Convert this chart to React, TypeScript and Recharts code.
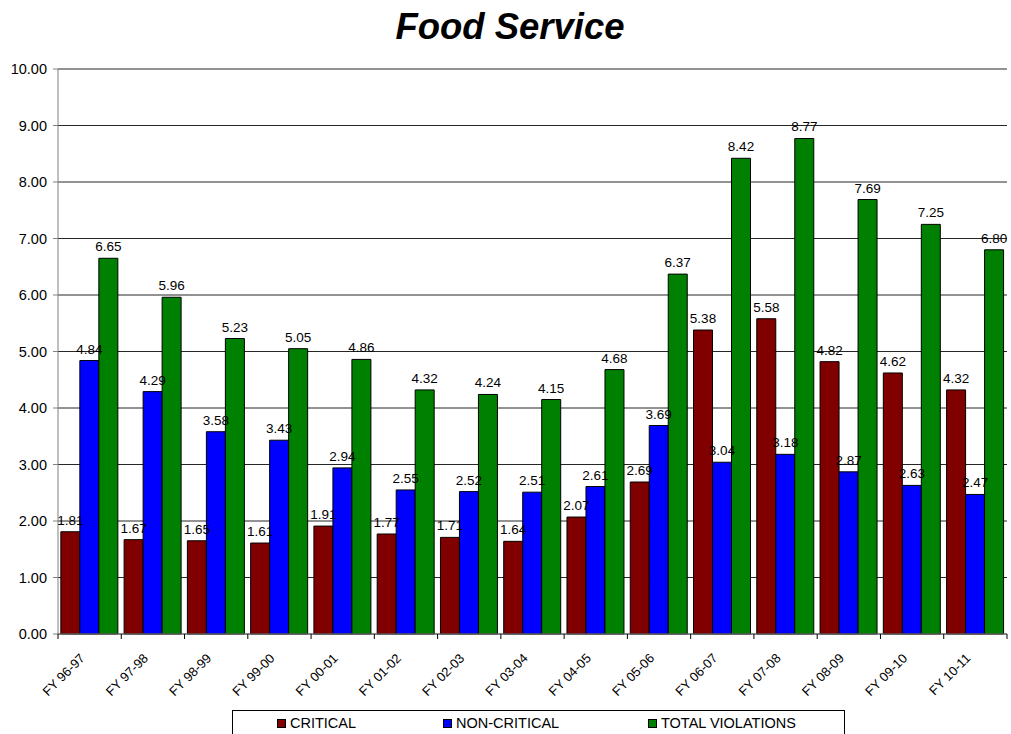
import React from "react";
import {
  BarChart,
  Bar,
  XAxis,
  YAxis,
  CartesianGrid,
  Legend,
  LabelList,
} from "recharts";

const YEARS = [
  "FY 96-97", "FY 97-98", "FY 98-99", "FY 99-00", "FY 00-01",
  "FY 01-02", "FY 02-03", "FY 03-04", "FY 04-05", "FY 05-06",
  "FY 06-07", "FY 07-08", "FY 08-09", "FY 09-10", "FY 10-11",
];
const CRITICAL = [1.81, 1.67, 1.65, 1.61, 1.91, 1.77, 1.71, 1.64, 2.07, 2.69, 5.38, 5.58, 4.82, 4.62, 4.32];
const NON_CRITICAL = [4.84, 4.29, 3.58, 3.43, 2.94, 2.55, 2.52, 2.51, 2.61, 3.69, 3.04, 3.18, 2.87, 2.63, 2.47];
const TOTAL = [6.65, 5.96, 5.23, 5.05, 4.86, 4.32, 4.24, 4.15, 4.68, 6.37, 8.42, 8.77, 7.69, 7.25, 6.8];
const Y_TICKS = [0, 1, 2, 3, 4, 5, 6, 7, 8, 9, 10];

const SERIES = [
  { key: "critical", name: "CRITICAL", color: "#800000" },
  { key: "nonCritical", name: "NON-CRITICAL", color: "#0000ff" },
  { key: "total", name: "TOTAL VIOLATIONS", color: "#008000" },
];

const data = YEARS.map((name, i) => ({
  name,
  critical: CRITICAL[i],
  nonCritical: NON_CRITICAL[i],
  total: TOTAL[i],
}));

const FONT = "'Liberation Sans', Arial, sans-serif";
const W = 1011;
const H = 734;
const BAND = (W - 58 - 4) / YEARS.length;

function XTick({ x, y, payload, index }: any) {
  const left = x - BAND / 2;
  const ax = x - 4;
  const ay = y + 17;
  return (
    <g>
      <line x1={left} y1={y - 8} x2={left} y2={y - 3} stroke="#000" />
      {index === YEARS.length - 1 && (
        <line x1={x + BAND / 2} y1={y - 8} x2={x + BAND / 2} y2={y - 3} stroke="#000" />
      )}
      <text
        x={ax}
        y={ay}
        transform={`rotate(-45, ${ax}, ${ay})`}
        textAnchor="end"
        fontSize={13}
        fontFamily={FONT}
        fill="#000"
      >
        {payload.value}
      </text>
    </g>
  );
}

function LegendBox() {
  const pos = [44, 210, 415];
  return (
    <div
      style={{
        width: 613,
        height: 25,
        boxSizing: "border-box",
        border: "1px solid #000",
        position: "relative",
        fontFamily: FONT,
        fontSize: 14.5,
        background: "#fff",
      }}
    >
      {SERIES.map((s, i) => (
        <div
          key={s.key}
          style={{ position: "absolute", left: pos[i], top: 4, display: "flex", alignItems: "center", lineHeight: "17px" }}
        >
          <span
            style={{
              display: "inline-block",
              width: 9,
              height: 9,
              boxSizing: "border-box",
              background: s.color,
              border: "1px solid #000",
              marginRight: 4,
            }}
          />
          <span>{s.name}</span>
        </div>
      ))}
    </div>
  );
}

export default function App() {
  return (
    <div style={{ position: "relative", width: W, height: H, background: "#fff" }}>
      <style>{`body{margin:0}`}</style>
      <div
        style={{
          position: "absolute",
          left: 510,
          top: 6,
          transform: "translateX(-50%)",
          fontFamily: FONT,
          fontSize: 36.5,
          fontWeight: "bold",
          fontStyle: "italic",
          whiteSpace: "nowrap",
          zIndex: 2,
        }}
      >
        Food Service
      </div>
      <BarChart
        width={W}
        height={H}
        data={data}
        margin={{ top: 69, right: 4, left: 0, bottom: 0 }}
        barCategoryGap="4.5%"
        barGap={0}
      >
        <CartesianGrid vertical={false} stroke="#000" strokeOpacity={0.85} />
        <XAxis
          dataKey="name"
          height={76}
          interval={0}
          tickLine={false}
          axisLine={{ stroke: "#808080" }}
          tick={<XTick />}
        />
        <YAxis
          width={58}
          domain={[0, 10]}
          ticks={Y_TICKS}
          interval={0}
          tickFormatter={(v: number) => v.toFixed(2)}
          tick={{ fontSize: 14.5, fontFamily: FONT, fill: "#000" }}
          tickSize={5}
          tickMargin={6}
          axisLine={{ stroke: "#808080" }}
          tickLine={{ stroke: "#808080" }}
        />
        <Legend
          verticalAlign="bottom"
          content={<LegendBox />}
          wrapperStyle={{ left: 232, width: 613, height: 24 }}
        />
        {SERIES.map((s) => (
          <Bar
            key={s.key}
            dataKey={s.key}
            name={s.name}
            fill={s.color}
            stroke="#000"
            strokeWidth={1}
            isAnimationActive={false}
          >
            <LabelList
              dataKey={s.key}
              position="top"
              offset={7}
              formatter={(v: any) => Number(v).toFixed(2)}
              style={{ fontSize: 13.5, fontFamily: FONT, fill: "#000" }}
            />
          </Bar>
        ))}
      </BarChart>
    </div>
  );
}
